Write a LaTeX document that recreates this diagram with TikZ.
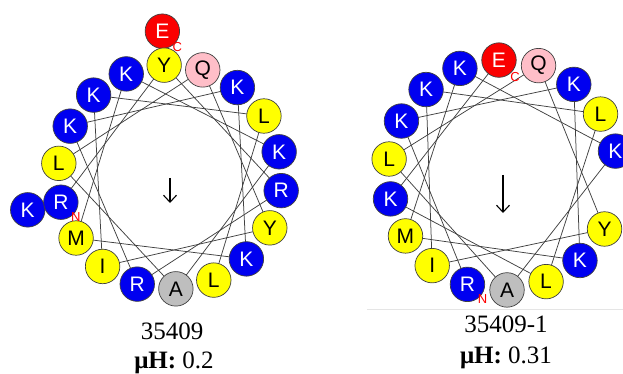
\documentclass[tikz,border=0pt]{standalone}
\usepackage{fontspec}
\setmainfont{Liberation Serif}
\newfontfamily\resfont{Liberation Sans}
\usetikzlibrary{arrows.meta,backgrounds}
\definecolor{resblue}{RGB}{0,0,240}
\definecolor{resyellow}{RGB}{255,255,0}
\definecolor{resred}{RGB}{250,0,0}
\definecolor{respink}{RGB}{255,190,200}
\definecolor{resgray}{RGB}{190,190,190}
\tikzset{
  res/.style={circle, draw=black!75, line width=0.7pt, minimum size=34.5pt, inner sep=0pt,
    font=\resfont\fontsize{21}{21}\selectfont},
  hb/.style={res, fill=resblue, text=white},
  hy/.style={res, fill=resyellow, text=black},
  hr/.style={res, fill=resred, text=white},
  hp/.style={res, fill=respink, text=black},
  hg/.style={res, fill=resgray, text=black},
  link/.style={draw=black!75, line width=0.75pt},
  term/.style={text=red, font=\resfont\fontsize{13}{13}\selectfont, inner sep=0pt},
  moment/.style={-{Straight Barb[length=7pt,width=13pt]}, line width=1.1pt},
  lbl/.style={font=\fontsize{25}{25}\selectfont, inner sep=0pt, anchor=base}
}
\begin{document}
\begin{tikzpicture}[x=1pt,y=-1pt]
\useasboundingbox (0,0) rectangle (623,374);
% ---------- wheel 1 ----------
% outer residues (19, 20)
\node[hb] (a19) at ({170+146*sin(257)},{177-146*cos(257)}) {K};
\node[hr] (a20) at ({170+146*sin(357)},{177-146*cos(357)}) {E};
\foreach \s/\st [count=\i] in {R/hb,Y/hy,R/hb,R/hb,K/hb,K/hb,K/hb,M/hy,K/hb,K/hb,A/hg,L/hy,Q/hp,Y/hy,I/hy,K/hb,L/hy,L/hy}{
  \pgfmathsetmacro\ang{257+100*(\i-1)}
  \node[\st] (a\i) at ({170+112*sin(\ang)},{177-112*cos(\ang)}) {\s};
}
\begin{pgfonlayer}{background}
\foreach \i in {1,...,17}{
  \pgfmathtruncatemacro\j{\i+1}
  \draw[link] (a\i.center) -- (a\j.center);
}
\end{pgfonlayer}
\node[term] (n1) at ([shift={(15,15)}]a1.center) {N};
\node[term] (c1) at ([shift={(15,16)}]a20.center) {C};
\coordinate (o1) at (170,178);
\coordinate (t1) at (170,203);
\draw[moment] (o1) -- (t1);
\node[lbl] (name1) at (172,339) {35409};
\node[lbl] (mu1) at (174,368) {{\bfseries μH:} 0.2};
% ---------- wheel 2 ----------
\foreach \s/\st [count=\i] in {R/hb,K/hb,K/hb,K/hb,M/hy,K/hb,K/hb,A/hg,L/hy,Q/hp,Y/hy,I/hy,K/hb,L/hy,L/hy,K/hb,E/hr}{
  \pgfmathsetmacro\ang{198+100*(\i-1)}
  \node[\st] (b\i) at ({503+115*sin(\ang)},{175-115*cos(\ang)}) {\s};
}
\begin{pgfonlayer}{background}
\foreach \i in {1,...,16}{
  \pgfmathtruncatemacro\j{\i+1}
  \draw[link] (b\i.center) -- (b\j.center);
}
\end{pgfonlayer}
\node[term] (n2) at ([shift={(15,15)}]b1.center) {N};
\node[term] (c2) at ([shift={(16,17)}]b17.center) {C};
\coordinate (o2) at (503,175);
\coordinate (t2) at (503,213);
\draw[moment] (o2) -- (t2);
\draw[black!10, line width=0.5pt] (367,309) -- (623,309);
\node[lbl] (name2) at (506,332) {35409-1};
\node[lbl] (mu2) at (506,363) {{\bfseries μH:} 0.31};
\end{tikzpicture}
\end{document}
